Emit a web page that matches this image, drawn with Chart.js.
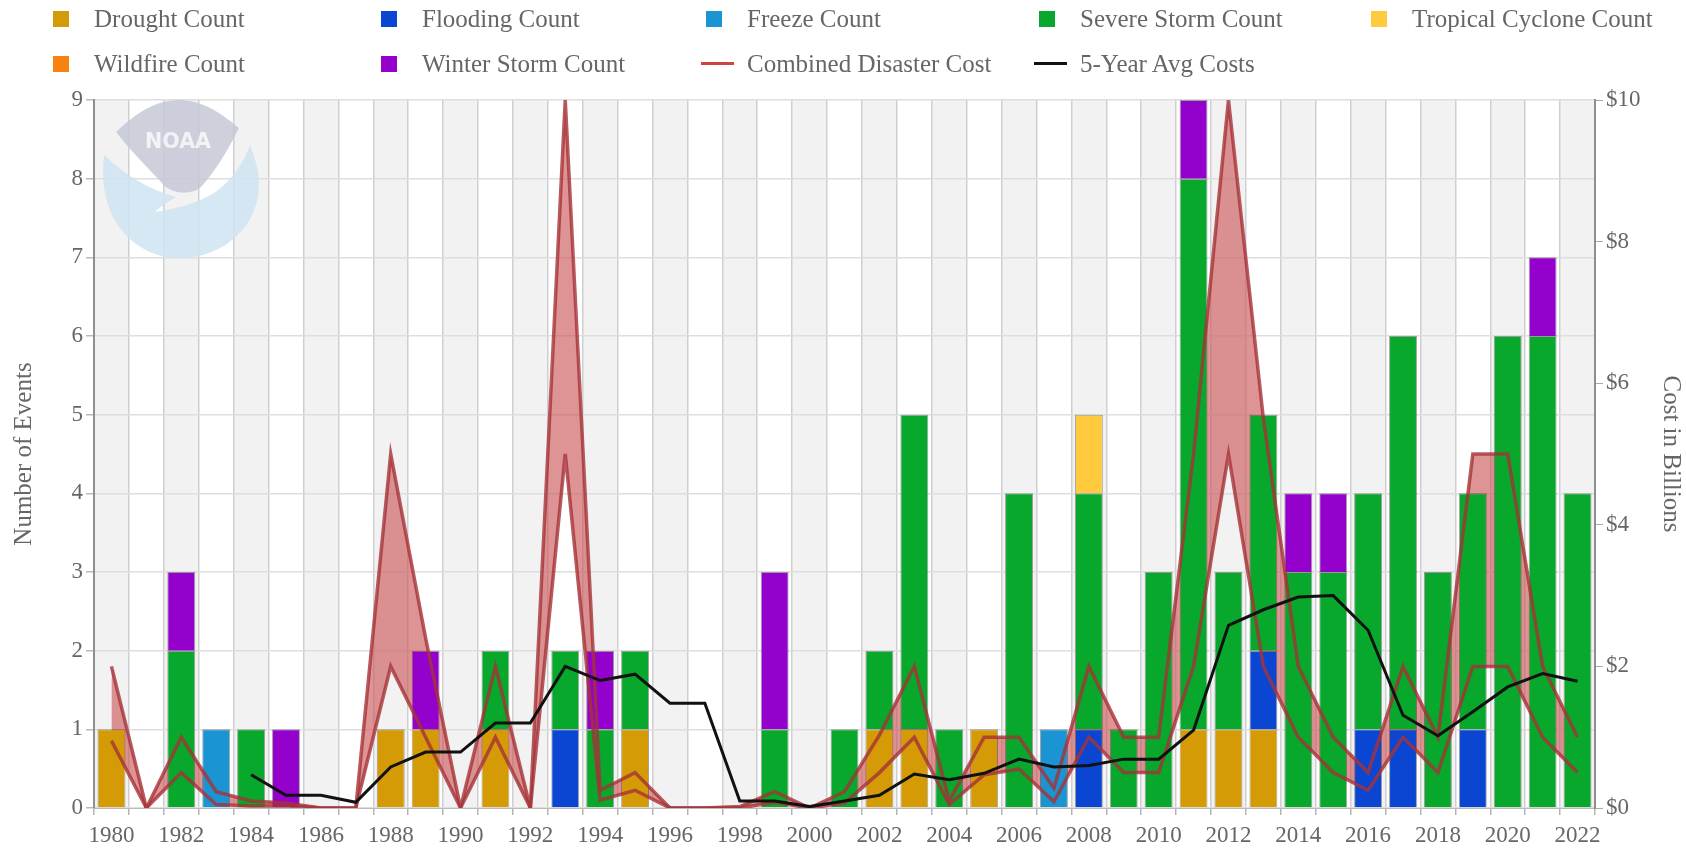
<!DOCTYPE html>
<html>
<head>
<meta charset="utf-8">
<title>Billion-dollar disaster events</title>
<script src="https://cdn.jsdelivr.net/npm/chart.js@4"></script>
<style>
    html, body { margin: 0; padding: 0; background: #fff; }
    #wrap { position: relative; width: 1686px; height: 850px; overflow: hidden; filter: blur(0.6px); }
    canvas { position: absolute; left: 0; top: 0; }
    #logo { position: absolute; left: 0; top: 0; pointer-events: none; }
    #legend {
        position: absolute; left: 53px; top: 0;
        display: grid; grid-template-columns: 328px 325px 333px 332px 300px; grid-auto-rows: 45px;
        font: 25px "Liberation Serif", serif; color: #666;
    }
    #legend .item { position: relative; padding-left: 41px; white-space: nowrap; line-height: 38px; height: 45px; }
    #legend .item.line { padding-left: 46px; margin-left: -5px; }
    #legend .box { position: absolute; left: 0; top: 11px; width: 16px; height: 16px; }
    #legend .stroke { position: absolute; left: 0; top: 17px; width: 33px; height: 3px; }
</style>
</head>
<body>
<div id="wrap">
    <canvas id="chart" width="1686" height="850"></canvas>
    <svg id="logo" width="300" height="280" opacity="0.85">
        <path d="M104 155 C96 225 140 258 179 258 C232 258 268 215 257 167 C255 158 252 150 250 145 C243 165 230 182 214 193 C196 204 175 209 155 212 C162 205 170 201 176 197 C150 190 125 175 104 155 Z" fill="#cfe4f1"/>
        <path d="M116 132 C135 114 155 100 179 100 C203 100 222 114 239 128 C228 150 215 172 200 188 C192 194 172 196 161 182 C146 166 130 150 116 132 Z" fill="#c6c9d6"/>
        <text x="178" y="148" font-family="DejaVu Sans, sans-serif" font-weight="bold" font-size="22" fill="#f1f2f5" text-anchor="middle" textLength="66" lengthAdjust="spacingAndGlyphs">NOAA</text>
    </svg>
    <div id="legend"></div>
</div>
<script>
const years = [
    "1980","1981","1982","1983","1984","1985","1986","1987","1988","1989",
    "1990","1991","1992","1993","1994","1995","1996","1997","1998","1999",
    "2000","2001","2002","2003","2004","2005","2006","2007","2008","2009",
    "2010","2011","2012","2013","2014","2015","2016","2017","2018","2019",
    "2020","2021","2022"
];

const droughtCount  = [1,0,0,0,0,0,0,0,1,1, 0,1,0,0,0,1,0,0,0,0, 0,0,1,1,0,1,0,0,0,0, 0,1,1,1,0,0,0,0,0,0, 0,0,0];
const floodingCount = [0,0,0,0,0,0,0,0,0,0, 0,0,0,1,0,0,0,0,0,0, 0,0,0,0,0,0,0,0,1,0, 0,0,0,1,0,0,1,1,0,1, 0,0,0];
const freezeCount   = [0,0,0,1,0,0,0,0,0,0, 0,0,0,0,0,0,0,0,0,0, 0,0,0,0,0,0,0,1,0,0, 0,0,0,0,0,0,0,0,0,0, 0,0,0];
const stormCount    = [0,0,2,0,1,0,0,0,0,0, 0,1,0,1,1,1,0,0,0,1, 0,1,1,4,1,0,4,0,3,1, 3,7,2,3,3,3,3,5,3,3, 6,6,4];
const cycloneCount  = [0,0,0,0,0,0,0,0,0,0, 0,0,0,0,0,0,0,0,0,0, 0,0,0,0,0,0,0,0,1,0, 0,0,0,0,0,0,0,0,0,0, 0,0,0];
const wildfireCount = [0,0,0,0,0,0,0,0,0,0, 0,0,0,0,0,0,0,0,0,0, 0,0,0,0,0,0,0,0,0,0, 0,0,0,0,0,0,0,0,0,0, 0,0,0];
const winterCount   = [0,0,1,0,0,1,0,0,0,1, 0,0,0,0,1,0,0,0,0,2, 0,0,0,0,0,0,0,0,0,0, 0,1,0,0,1,1,0,0,0,0, 0,1,0];

// coût en milliards : borne haute et borne basse
const costHigh = [2,0,1,0.23,0.1,0.07,0,0,5,2.4, 0,2,0,10,0.25,0.5,0,0,0.02,0.23, 0,0.23,1.03,2,0.1,1,1,0.28,2,1, 1,5,10,5.5,2,1,0.5,2,1,5, 5,2,1];
const costLow  = [0.95,0,0.5,0.05,0.03,0.03,0,0,2,1, 0,1,0,5,0.11,0.25,0,0,0,0.08, 0,0.07,0.5,1,0.05,0.47,0.55,0.09,1,0.5, 0.5,2,5,2,1,0.5,0.25,1,0.5,2, 2,1,0.5];
const avgCost  = [null,null,null,null,0.47,0.18,0.18,0.08,0.58,0.79, 0.79,1.2,1.2,2,1.8,1.89,1.48,1.48,0.1,0.1, 0.02,0.1,0.18,0.48,0.4,0.49,0.69,0.58,0.6,0.69, 0.69,1.1,2.58,2.8,2.98,3,2.51,1.31,1.02,1.36, 1.71,1.9,1.79];

const countTicks = [0,1,2,3,4,5,6,7,8,9];
const textColor = "#666";
const fontFamily = '"Liberation Serif", serif';
const lineRed = "rgba(165,50,55,0.8)";

function barSet(label, data, color) {
    return {
        type: "bar", label, data, order: 2,
        backgroundColor: color,
        borderColor: "rgba(30,30,30,0.4)",
        borderWidth: 1,
        barPercentage: 0.8,
        categoryPercentage: 1,
        yAxisID: "y"
    };
}

const datasets = [
    barSet("Drought Count", droughtCount, "#d49b06"),
    barSet("Flooding Count", floodingCount, "#0b46d2"),
    barSet("Freeze Count", freezeCount, "#1a94d2"),
    barSet("Severe Storm Count", stormCount, "#07a82b"),
    barSet("Tropical Cyclone Count", cycloneCount, "#ffca3d"),
    barSet("Wildfire Count", wildfireCount, "#f6830f"),
    barSet("Winter Storm Count", winterCount, "#9400cc"),
    {
        type: "line", label: "Combined Disaster Cost", data: costHigh, order: 1,
        yAxisID: "y1", borderColor: lineRed, borderWidth: 3.5, pointRadius: 0, tension: 0,
        backgroundColor: "rgba(205,90,90,0.65)", fill: "+1"
    },
    {
        type: "line", label: "Cost low", data: costLow, order: 1,
        yAxisID: "y1", borderColor: lineRed, borderWidth: 3.5, pointRadius: 0, tension: 0, fill: false
    },
    {
        type: "line", label: "5-Year Avg Costs", data: avgCost, order: 0,
        yAxisID: "y1", borderColor: "#111", borderWidth: 3, pointRadius: 0, tension: 0, fill: false
    }
];

// bandes grises une année sur deux, derrière la grille
const bandsPlugin = {
    id: "bands",
    beforeDraw(chart) {
        const { ctx, chartArea, scales } = chart;
        const band = scales.x.width / years.length;
        ctx.save();
        ctx.fillStyle = "#f2f2f3";
        years.forEach((y, i) => {
            if (i % 2) return;
            const cx = scales.x.getPixelForTick(i);
            ctx.fillRect(cx - band / 2, chartArea.top, band, chartArea.height);
        });
        ctx.restore();
    }
};

const chart = new Chart(document.getElementById("chart"), {
    data: { labels: years, datasets },
    plugins: [bandsPlugin],
    options: {
        responsive: false,
        animation: false,
        layout: { padding: { top: 100, left: 0, right: 0, bottom: 0 } },
        plugins: {
            legend: { display: false },
            tooltip: { enabled: false },
            filler: { drawTime: "beforeDatasetsDraw" }
        },
        scales: {
            x: {
                stacked: true,
                afterFit(scale) { scale.height = 42; },
                grid: { color: "#cfcfcf", lineWidth: 1.5, tickLength: 7, tickColor: "#b5b5b5" },
                border: { display: true, color: "#bbb" },
                ticks: {
                    autoSkip: false, maxRotation: 0, padding: 7, color: textColor,
                    font: { family: fontFamily, size: 23 },
                    callback(value, i) { return i % 2 ? "" : years[i]; }
                }
            },
            y: {
                stacked: true, min: 0, max: 9,
                afterFit(scale) { scale.width = 94; },
                afterBuildTicks(scale) { scale.ticks = countTicks.map(value => ({ value })); },
                grid: { color: "#dedede", lineWidth: 1.5, tickLength: 8, tickColor: "#bbb" },
                border: { display: true, color: "#8f8f8f", width: 2 },
                ticks: { padding: 3, color: textColor, font: { family: fontFamily, size: 23 } },
                title: {
                    display: true, text: "Number of Events", color: textColor,
                    font: { family: fontFamily, size: 25 }, padding: { top: 9, bottom: 0 }
                }
            },
            y1: {
                position: "right", min: 0, max: 10,
                afterFit(scale) { scale.width = 91; },
                grid: { drawOnChartArea: false, tickLength: 8, tickColor: "#aaa" },
                border: { display: true, color: "#8f8f8f", width: 2 },
                ticks: {
                    stepSize: 2, padding: 3, color: textColor,
                    font: { family: fontFamily, size: 23 },
                    callback: v => "$" + v
                },
                title: {
                    display: true, text: "Cost in Billions", color: textColor,
                    font: { family: fontFamily, size: 25 }, padding: { top: 0, bottom: 0 }
                }
            }
        }
    }
});

// légende HTML en colonnes, construite depuis les datasets
const legend = document.getElementById("legend");
chart.data.datasets.filter(d => d.label !== "Cost low").forEach(d => {
    const item = document.createElement("div");
    const mark = document.createElement("span");
    item.className = d.type === "line" ? "item line" : "item";
    mark.className = d.type === "line" ? "stroke" : "box";
    mark.style.background = d.type === "line" ? (d.label === "5-Year Avg Costs" ? "#111" : "#d0433f") : d.backgroundColor;
    item.appendChild(mark);
    item.appendChild(document.createTextNode(d.label));
    legend.appendChild(item);
});
</script>
</body>
</html>
